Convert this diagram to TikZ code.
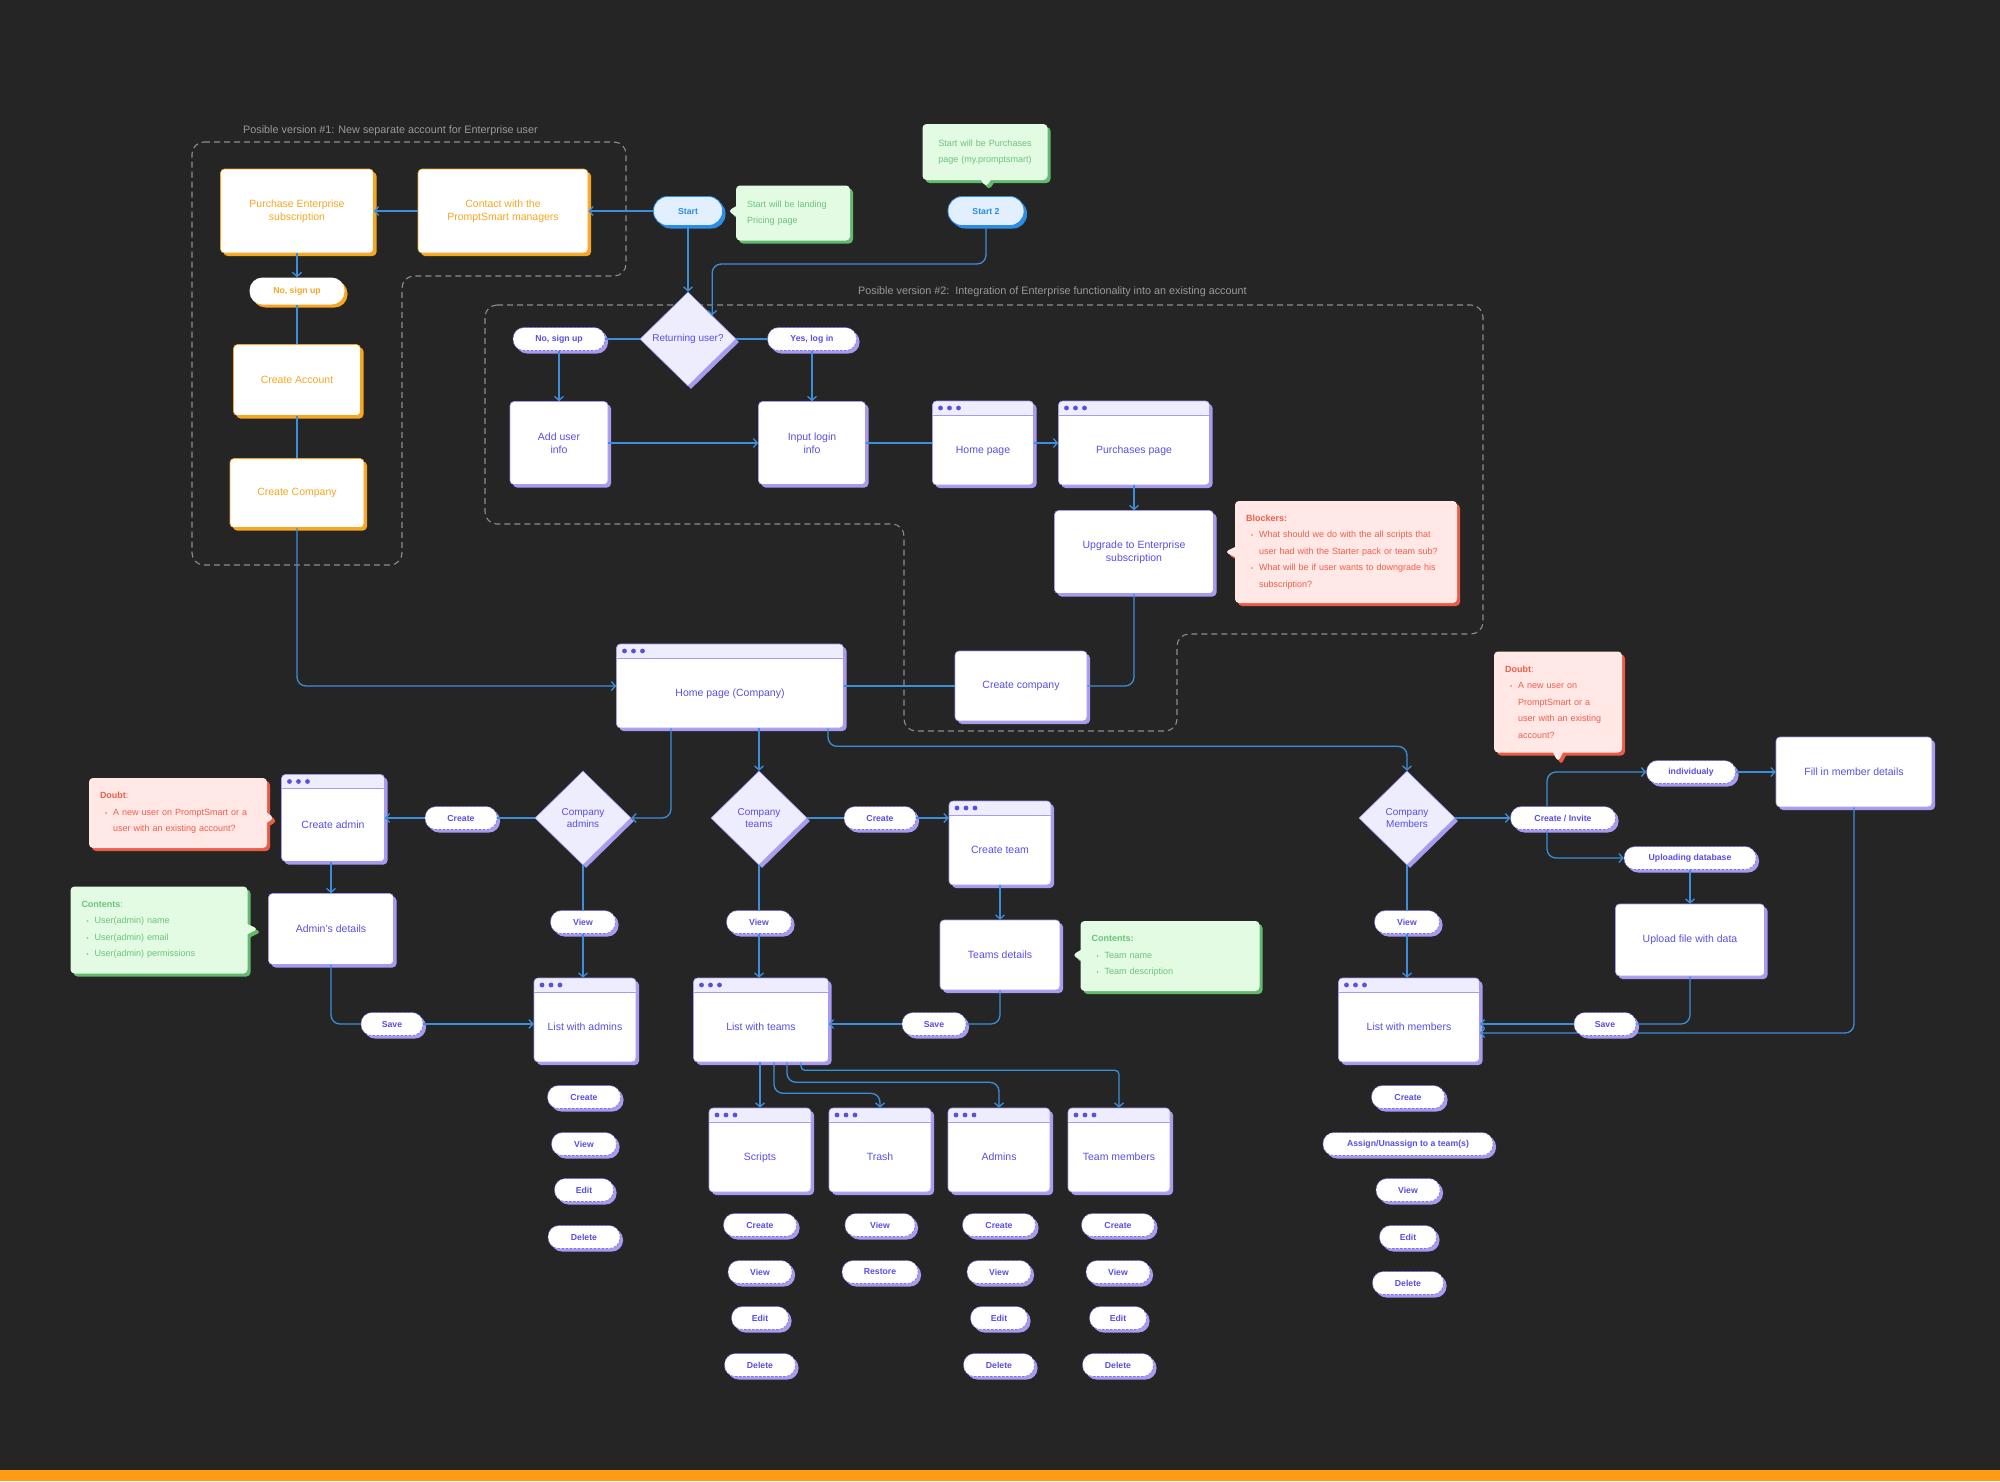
\documentclass[tikz,border=0pt]{standalone}
\usepackage{fontspec}
\setmainfont{Liberation Sans}
\usepackage{tikz}
\usetikzlibrary{shapes.geometric,shapes.callouts}
\usetikzlibrary{positioning}
\usetikzlibrary{shadows}
\usetikzlibrary{arrows.meta}

\definecolor{canvas}{HTML}{252525}
\definecolor{flow}{HTML}{3B8FDA}
\definecolor{ink}{HTML}{5A4FE3}
\definecolor{inkshade}{HTML}{A79BF0}
\definecolor{lilac}{HTML}{EEEDFD}
\definecolor{amber}{HTML}{F6A623}
\definecolor{mint}{HTML}{E3FAE3}
\definecolor{mintink}{HTML}{6BC47A}
\definecolor{mintshade}{HTML}{62BA6E}
\definecolor{rose}{HTML}{FFE8E5}
\definecolor{roseink}{HTML}{F05E4B}
\definecolor{roseshade}{HTML}{EC5B45}
\definecolor{sky}{HTML}{E1EFFF}
\definecolor{skyink}{HTML}{2D8CE3}
\definecolor{frame}{HTML}{8C8C8C}
\definecolor{frametext}{HTML}{9A9A9A}
\definecolor{bar}{HTML}{FF9C12}

\newcommand{\noteitem}{\hspace*{5pt}{\fontsize{6}{6}\selectfont\textbullet}\hspace*{6pt}}
\newcommand{\notecont}{\hspace*{13pt}}

\begin{document}
\begin{tikzpicture}
	[x=1pt,y=-1pt,
	>={Straight Barb[length=4pt,width=9pt]},
	lift/.style={drop shadow={shadow xshift=3pt,shadow yshift=-3pt,fill=#1,opacity=1}},
	boxform/.style={rectangle,rounded corners=4pt,fill=white,align=center,line width=0.6pt,
		font=\fontsize{10.5}{13}\selectfont,minimum width=#1,minimum height=71pt},
	card/.style={boxform=#1,draw=inkshade,text=ink,lift=inkshade},
	card/.default=120pt,
	ocard/.style={boxform=#1,draw=amber,text=amber,lift=amber},
	ocard/.default=120pt,
	win/.style={card=#1,minimum height=84pt,text height=24pt,text depth=3pt,
		path picture={
			\fill[lilac] (path picture bounding box.north west) rectangle ([yshift=-14pt]path picture bounding box.north east);
			\draw[inkshade,line width=0.6pt] ([yshift=-14pt]path picture bounding box.north west) -- ([yshift=-14pt]path picture bounding box.north east);
			\foreach \dotx in {8,17,26}
				\fill[ink] ([xshift=\dotx pt,yshift=-7pt]path picture bounding box.north west) circle (2.4pt);
		}},
	win/.default=102pt,
	choice/.style={diamond,fill=lilac,draw=inkshade,line width=0.6pt,text=ink,align=center,
		font=\fontsize{10}{12.5}\selectfont,minimum width=96pt,minimum height=94pt,inner sep=1pt,lift=inkshade},
	pillform/.style={rectangle,rounded corners=11pt,minimum width=#1,minimum height=23pt,inner sep=1pt,
		font=\bfseries\fontsize{8.7}{10}\selectfont},
	pill/.style={pillform=#1,fill=white,draw=ink!80,line width=0.6pt,dash pattern=on 2.5pt off 1.5pt,text=ink,lift=inkshade},
	pill/.default=62pt,
	opill/.style={pillform=#1,minimum height=27pt,rounded corners=13pt,fill=white,text=amber,lift=amber},
	opill/.default=62pt,
	spill/.style={pillform=#1,minimum height=29pt,rounded corners=14pt,fill=sky,draw=skyink,line width=0.8pt,text=skyink,lift=skyink},
	spill/.default=70pt,
	note/.style={rectangle callout,rounded corners=4pt,align=left,inner xsep=11pt,inner ysep=8pt,
		font=\fontsize{9}{16.5}\selectfont,callout pointer width=10pt},
	goodnote/.style={note,fill=mint,text=mintink,lift=mintshade},
	badnote/.style={note,fill=rose,text=roseink,lift=roseshade},
	zone/.style={draw=frame,line width=1.1pt,dash pattern=on 6pt off 4pt,rounded corners=12pt},
	zonetext/.style={text=frametext,font=\fontsize{10.8}{12}\selectfont,inner sep=0pt,anchor=west},
	link/.style={draw=flow,line width=1.3pt,rounded corners=9pt}]

	\fill[canvas] (0,0) rectangle (2000,1481);
	\fill[bar] (0,1470) rectangle (2000,1481);
	\useasboundingbox (0,0) rectangle (2000,1481);

	% the two possible versions
	\draw[zone] (192,142) -- (626,142) -- (626,276) -- (402,276) -- (402,565) -- (192,565) -- cycle;
	\draw[zone] (485,305) -- (1483,305) -- (1483,634) -- (1177,634) -- (1177,731) -- (904,731) -- (904,524) -- (485,524) -- cycle;
	\node[zonetext] (version1) at (243,131) {Posible version \#1: New separate account for Enterprise user};
	\node[zonetext] (version2) at (858,292) {Posible version \#2:\ \ Integration of Enterprise functionality into an existing account};

	% version 1
	\node[ocard=153pt,minimum height=84pt] (purchase) at (297,211) {Purchase Enterprise\\subscription};
	\node[ocard=170pt,minimum height=84pt] (contact) at (503,211) {Contact with the\\PromptSmart managers};
	\node[opill=95pt] (osignup) at (297,291) {No, sign up};
	\node[ocard=127pt] (oaccount) at (297,380) {Create Account};
	\node[ocard=134pt,minimum height=69pt] (ocompany) at (297,493) {Create Company};

	% starts
	\node[spill=69pt] (start) at (688,211) {Start};
	\node[spill=76pt] (start2) at (986,211) {Start 2};
	\node[goodnote,text width=92pt,minimum height=55pt,callout absolute pointer={([xshift=5pt]start.east)}] (startnote) at (793,213) {Start will be landing\\Pricing page};
	\node[goodnote,align=center,text width=103pt,minimum height=56pt,callout absolute pointer={([yshift=9pt]start2.north)}] (start2note) at (985,152) {Start will be Purchases\\page (my.promptsmart)};
	\coordinate (s2bend) at (714,264);

	% version 2
	\node[choice] (returning) at (688,339) {Returning user?};
	\node[pill=92pt] (nosignup) at (559,339) {No, sign up};
	\node[pill=89pt] (yeslogin) at (812,339) {Yes, log in};
	\node[card=98pt,minimum height=83pt] (userinfo) at (559,443) {Add user\\info};
	\node[card=107pt,minimum height=83pt] (login) at (812,443) {Input login\\info};
	\node[win=101pt] (home) at (983,443) {Home page};
	\node[win=151pt] (purchases) at (1134,443) {Purchases page};
	\node[card=159pt,minimum height=83pt] (upgrade) at (1134,552) {Upgrade to Enterprise\\subscription};
	\node[badnote,text width=200pt,minimum height=102pt,callout absolute pointer={([xshift=11pt]upgrade.east)}] (blockers) at (1346,552)
		{\textbf{Blockers:}\\
		\noteitem What should we do with the all scripts that\\
		\notecont user had with the Starter pack or team sub?\\
		\noteitem What will be if user wants to downgrade his\\
		\notecont subscription?};
	\node[win=227pt] (homeco) at (730,686) {Home page (Company)};
	\node[card=132pt,minimum height=70pt] (newco) at (1021,686) {Create company};

	\draw[link,->] (start) -- (contact);
	\draw[link,->] (contact) -- (purchase);
	\draw[link,->] (purchase) -- (osignup);
	\draw[link] (osignup) -- (oaccount);
	\draw[link] (oaccount) -- (ocompany);
	\draw[link,->] (ocompany) |- (homeco);
	\draw[link,->] (start) -- (returning);
	\draw[link,->] (start2) |- (returning.north east |- s2bend) -- (returning.north east);
	\draw[link] (returning) -- (nosignup);
	\draw[link,->] (nosignup) -- (userinfo);
	\draw[link] (returning) -- (yeslogin);
	\draw[link,->] (yeslogin) -- (login);
	\draw[link,->] (userinfo) -- (login);
	\draw[link] (login) -- (home);
	\draw[link,->] (home) -- (purchases);
	\draw[link,->] (purchases) -- (upgrade);
	\draw[link] (upgrade) |- (newco);
	\draw[link] (newco) -- (homeco);

	% admins
	\node[choice] (cadmins) at (583,818) {Company\\admins};
	\node[pill=72pt] (admcreate) at (461,818) {Create};
	\node[win=103pt,minimum height=87pt] (newadmin) at (333,818) {Create admin};
	\node[badnote,text width=156pt,minimum height=70pt,callout absolute pointer={([xshift=-7pt]newadmin.west)}] (admdoubt) at (178,813)
		{\textbf{Doubt}:\\
		\noteitem A new user on PromptSmart or a\\
		\notecont user with an existing account?};
	\node[card=125pt] (admdetails) at (331,929) {Admin's details};
	\node[goodnote,text width=155pt,minimum height=87pt,callout absolute pointer={([xshift=-10pt]admdetails.west)}] (admcontents) at (159,930)
		{\textbf{Contents}:\\
		\noteitem User(admin) name\\
		\noteitem User(admin) email\\
		\noteitem User(admin) permissions};
	\node[pill] (admsave) at (392,1024) {Save};
	\node[pill=65pt] (admview) at (583,922) {View};
	\node[win=102pt] (admlist) at (585,1020) {List with admins};
	\node[pill=73pt] (admlc) at (584,1097) {Create};
	\node[pill=65pt] (admlv) at (584,1144) {View};
	\node[pill=59pt] (admle) at (584,1190) {Edit};
	\node[pill=72pt] (admld) at (584,1237) {Delete};

	\draw[link,->] ([xshift=-59pt]homeco.south) |- (cadmins);
	\draw[link] (cadmins) -- (admcreate);
	\draw[link,->] (admcreate) -- (newadmin);
	\draw[link,->] (admdetails.north |- newadmin.south) -- (admdetails.north);
	\draw[link] (admdetails) |- (admsave);
	\draw[link,->] (admsave) -- (admsave -| admlist.west);
	\draw[link] (cadmins) -- (admview);
	\draw[link,->] (admview) -- (admview |- admlist.north);

	% teams
	\node[choice] (cteams) at (759,818) {Company\\teams};
	\node[pill=72pt] (tmcreate) at (880,818) {Create};
	\node[win=102pt] (newteam) at (1000,843) {Create team};
	\node[card=120pt,minimum height=70pt] (tmdetails) at (1000,955) {Teams details};
	\node[goodnote,text width=157pt,minimum height=70pt,callout absolute pointer={([xshift=12pt]tmdetails.east)}] (tmcontents) at (1170,956)
		{\textbf{Contents:}\\
		\noteitem Team name\\
		\noteitem Team description};
	\node[pill=64pt] (tmsave) at (934,1024) {Save};
	\node[pill=65pt] (tmview) at (759,922) {View};
	\node[win=135pt] (tmlist) at (761,1020) {List with teams};
	\node[win=102pt] (scripts) at (760,1150) {Scripts};
	\node[win=102pt] (trash) at (880,1150) {Trash};
	\node[win=102pt] (tmadmins) at (999,1150) {Admins};
	\node[win=102pt] (tmmembers) at (1119,1150) {Team members};

	\node[pill=73pt] (scrc) at (760,1225) {Create};
	\node[pill=64pt] (scrv) at (760,1272) {View};
	\node[pill=57pt] (scre) at (760,1318) {Edit};
	\node[pill=71pt] (scrd) at (760,1365) {Delete};
	\node[pill=70pt] (trav) at (880,1225) {View};
	\node[pill=76pt] (trar) at (880,1272) {Restore};
	\node[pill=73pt] (tadc) at (999,1225) {Create};
	\node[pill=64pt] (tadv) at (999,1272) {View};
	\node[pill=57pt] (tade) at (999,1318) {Edit};
	\node[pill=71pt] (tadd) at (999,1365) {Delete};
	\node[pill=73pt] (tmmc) at (1118,1225) {Create};
	\node[pill=64pt] (tmmv) at (1118,1272) {View};
	\node[pill=57pt] (tmme) at (1118,1318) {Edit};
	\node[pill=71pt] (tmmd) at (1118,1365) {Delete};

	\draw[link,->] (homeco.south -| cteams) -- (cteams);
	\draw[link] (cteams) -- (tmcreate);
	\draw[link,->] (tmcreate) -- (tmcreate -| newteam.west);
	\draw[link,->] (newteam) -- (tmdetails);
	\draw[link] (tmdetails) |- (tmsave);
	\draw[link,->] (tmsave) -- (tmsave -| tmlist.east);
	\draw[link] (cteams) -- (tmview);
	\draw[link,->] (tmview) -- (tmview |- tmlist.north);
	\draw[link,->] (tmlist.south -| scripts) -- (scripts);
	\draw[link,->] ([xshift=13pt]tmlist.south) -- ++(0,31) -| (trash);
	\draw[link,->] ([xshift=26pt]tmlist.south) -- ++(0,20) -| (tmadmins);
	\draw[link,->,rounded corners=4pt] ([xshift=40pt]tmlist.south) -- ++(0,8) -| (tmmembers);

	% members
	\node[choice] (cmembers) at (1407,818) {Company\\Members};
	\node[pill=105pt] (invite) at (1563,818) {Create / Invite};
	\node[pill=89pt] (single) at (1691,772) {individualy};
	\node[card=156pt,minimum height=70pt] (memberform) at (1854,772) {Fill in member details};
	\node[pill=132pt] (upload) at (1690,858) {Uploading database};
	\node[card=149pt,minimum height=72pt] (uploadfile) at (1690,940) {Upload file with data};
	\node[badnote,text width=106pt,minimum height=101pt,callout absolute pointer={(1558,762)}] (memdoubt) at (1558,702)
		{\textbf{Doubt}:\\
		\noteitem A new user on\\
		\notecont PromptSmart or a\\
		\notecont user with an existing\\
		\notecont account?};
	\node[pill=65pt] (memview) at (1407,922) {View};
	\node[win=141pt] (memlist) at (1409,1020) {List with members};
	\node[pill=73pt] (memc) at (1408,1097) {Create};
	\node[pill=170pt] (mema) at (1408,1144) {Assign/Unassign to a team(s)};
	\node[pill=64pt] (memv) at (1408,1190) {View};
	\node[pill=57pt] (meme) at (1408,1237) {Edit};
	\node[pill=71pt] (memd) at (1408,1283) {Delete};

	\draw[link,->] ([xshift=98pt]homeco.south) -- ++(0,18) -| (cmembers);
	\draw[link,->] (cmembers) -- (invite);
	\draw[link,->] ([xshift=-16pt]invite.north) |- (single);
	\draw[link,->] ([xshift=-16pt]invite.south) |- (upload);
	\draw[link,->] (single) -- (memberform);
	\draw[link,->] (upload) -- (uploadfile);
	\draw[link,->] (memberform) |- ([yshift=-13pt]memlist.east);
	\node[pill] (memsave) at (1605,1024) {Save};
	\draw[link] (uploadfile) |- (memsave);
	\draw[link,->] (memsave) -- (memsave -| memlist.east);
	\draw[link] (cmembers) -- (memview);
	\draw[link,->] (memview) -- (memview |- memlist.north);
\end{tikzpicture}
\end{document}
